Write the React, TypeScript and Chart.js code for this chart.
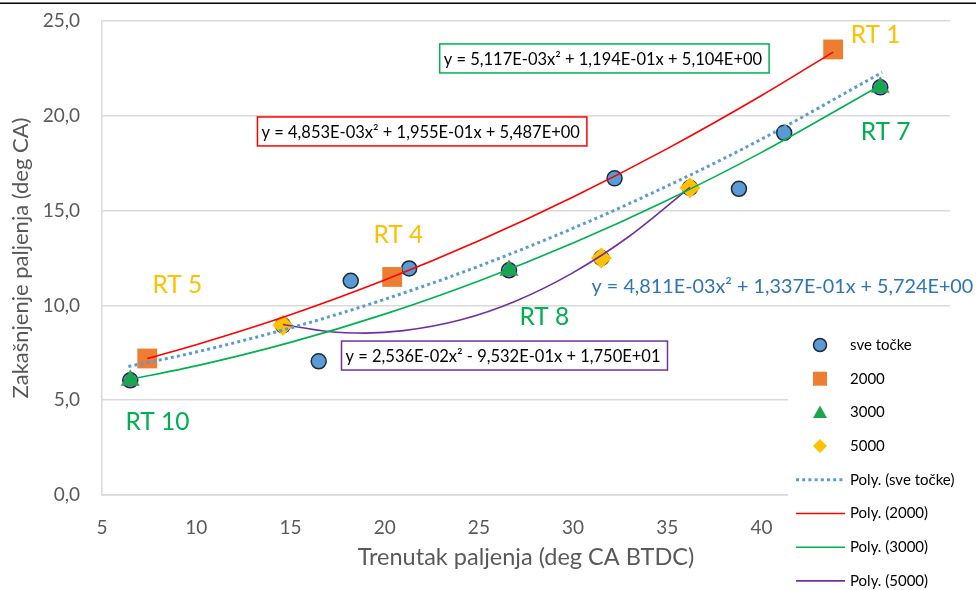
import React, { useEffect, useRef } from "react";
import { Chart, registerables } from "chart.js";
Chart.register(...registerables);

// ---- measured points ----
const allX = [6.5, 7.4, 14.6, 16.5, 18.2, 20.4, 21.3, 26.6, 31.5, 32.2, 36.2, 38.8, 41.2, 43.8, 46.3];
const allY = [6.05, 7.2, 8.95, 7.05, 11.3, 11.5, 11.95, 11.85, 12.5, 16.7, 16.2, 16.15, 19.1, 23.5, 21.5];
const rpm2000X = [7.4, 20.4, 43.8];
const rpm2000Y = [7.2, 11.5, 23.5];
const rpm3000X = [6.5, 26.6, 46.3];
const rpm3000Y = [6.05, 11.85, 21.5];
const rpm5000X = [14.6, 31.5, 36.2];
const rpm5000Y = [8.95, 12.5, 16.2];

// ---- trendline points ----
const polyAllX = [6.4, 10, 15, 20, 25, 30, 35, 40, 46.4];
const polyAllY = [6.78, 7.54, 8.81, 10.32, 12.07, 14.07, 16.3, 18.77, 22.29];
const poly2000X = [7.4, 10, 15, 20, 25, 30, 35, 40, 43.8];
const poly2000Y = [7.2, 7.93, 9.51, 11.34, 13.41, 15.72, 18.27, 21.07, 23.36];
const poly3000X = [6.5, 10, 15, 20, 25, 30, 35, 40, 46.3];
const poly3000Y = [6.1, 6.81, 8.05, 9.54, 11.29, 13.29, 15.55, 18.07, 21.6];
const poly5000X = [14.6, 17, 19, 21, 24, 27, 30, 33, 36.2];
const poly5000Y = [8.99, 8.62, 8.54, 8.67, 9.23, 10.25, 11.73, 13.66, 16.23];

const xTicks = [5, 10, 15, 20, 25, 30, 35, 40, 45, 50];
const yTicks = [0, 5, 10, 15, 20, 25];

const seriesNames = ["sve točke", "2000", "3000", "5000"];
const trendNames = ["Poly. (sve točke)", "Poly. (2000)", "Poly. (3000)", "Poly. (5000)"];

const eqTexts = [
  "y = 5,117E-03x² + 1,194E-01x + 5,104E+00",
  "y = 4,853E-03x² + 1,955E-01x + 5,487E+00",
  "y = 2,536E-02x² - 9,532E-01x + 1,750E+01",
  "y = 4,811E-03x² + 1,337E-01x + 5,724E+00",
];
const rtTexts = ["RT 1", "RT 4", "RT 5", "RT 7", "RT 8", "RT 10"];

const FONT = "Lato, 'Open Sans', sans-serif";
const COLORS = {
  all: "#5B9BD5",
  r2000: "#ED7D31",
  r3000: "#1AA64B",
  r5000: "#FFC000",
  l2000: "#FF0000",
  l3000: "#00B050",
  l5000: "#7030A0",
  grid: "#D9D9D9",
  text: "#595959",
};

const pts = (xs: number[], ys: number[]) => xs.map((x, i) => ({ x, y: ys[i] }));

// annotation placement (data coordinates of the box's left/top or left/middle)
const eqBoxes = [
  { text: eqTexts[0], x: 22.92, y: 23.79, color: "#00B050" },
  { text: eqTexts[1], x: 13.25, y: 19.94, color: "#FF0000" },
  { text: eqTexts[2], x: 17.71, y: 8.12, color: "#7030A0" },
];
const blueEq = { text: eqTexts[3], x: 30.98, y: 10.97, color: "#2E75B6" };
const rtPlaced = [
  { text: rtTexts[0], x: 44.73, y: 24.26, color: "#FFC000" },
  { text: rtTexts[1], x: 19.41, y: 13.71, color: "#FFC000" },
  { text: rtTexts[2], x: 7.68, y: 11.08, color: "#FFC000" },
  { text: rtTexts[3], x: 45.26, y: 19.15, color: "#00B050" },
  { text: rtTexts[4], x: 27.16, y: 9.39, color: "#00B050" },
  { text: rtTexts[5], x: 6.25, y: 3.85, color: "#00B050" },
];

function drawMarker(ctx: CanvasRenderingContext2D, style: string, x: number, y: number, r: number, fill: string, stroke: string | null, lw: number) {
  ctx.save();
  ctx.beginPath();
  if (style === "circle") {
    ctx.arc(x, y, r, 0, Math.PI * 2);
  } else if (style === "rect") {
    ctx.rect(x - r, y - r, 2 * r, 2 * r);
  } else if (style === "triangle") {
    ctx.moveTo(x, y - r);
    ctx.lineTo(x + r, y + r * 0.8);
    ctx.lineTo(x - r, y + r * 0.8);
    ctx.closePath();
  } else if (style === "rectRot") {
    ctx.moveTo(x, y - r);
    ctx.lineTo(x + r, y);
    ctx.lineTo(x, y + r);
    ctx.lineTo(x - r, y);
    ctx.closePath();
  }
  ctx.fillStyle = fill;
  ctx.fill();
  if (stroke && lw > 0) {
    ctx.strokeStyle = stroke;
    ctx.lineWidth = lw;
    ctx.stroke();
  }
  ctx.restore();
}

const overlayPlugin = {
  id: "overlay",
  afterDraw(chart: any) {
    const ctx: CanvasRenderingContext2D = chart.ctx;
    const xs = chart.scales.x;
    const ys = chart.scales.y;
    ctx.save();
    // top border line
    ctx.fillStyle = "#000000";
    ctx.fillRect(0, 2.5, chart.width, 1.5);

    // equation boxes
    ctx.font = `16.5px ${FONT}`;
    ctx.textBaseline = "middle";
    ctx.textAlign = "left";
    eqBoxes.forEach((e) => {
      const left = xs.getPixelForValue(e.x);
      const top = ys.getPixelForValue(e.y);
      const w = ctx.measureText(e.text).width + 11;
      const h = 29;
      ctx.fillStyle = "#ffffff";
      ctx.fillRect(left, top, w, h);
      ctx.strokeStyle = e.color;
      ctx.lineWidth = 1.5;
      ctx.strokeRect(left, top, w, h);
      ctx.fillStyle = "#000000";
      ctx.fillText(e.text, left + 4, top + h / 2 + 1);
    });

    // blue equation
    ctx.font = `19.8px ${FONT}`;
    ctx.fillStyle = blueEq.color;
    ctx.fillText(blueEq.text, xs.getPixelForValue(blueEq.x), ys.getPixelForValue(blueEq.y));

    // RT labels
    ctx.font = `24.5px ${FONT}`;
    rtPlaced.forEach((r) => {
      ctx.fillStyle = r.color;
      ctx.fillText(r.text, xs.getPixelForValue(r.x), ys.getPixelForValue(r.y));
    });

    // legend
    const lx = 788;
    const ly = 322;
    ctx.fillStyle = "#ffffff";
    ctx.fillRect(lx, ly, chart.width - lx, chart.height - ly);
    const ds = chart.data.datasets;
    const order = [4, 5, 6, 7, 0, 1, 2, 3];
    const rowY0 = 345;
    const rowH = 33.7;
    ctx.font = `15px ${FONT}`;
    order.forEach((idx, i) => {
      const d = ds[idx];
      const cy = rowY0 + i * rowH;
      if (d.showLine) {
        ctx.save();
        ctx.strokeStyle = d.borderColor;
        ctx.lineWidth = d.borderWidth;
        ctx.setLineDash(d.borderDash || []);
        ctx.beginPath();
        ctx.moveTo(796, cy);
        ctx.lineTo(845, cy);
        ctx.stroke();
        ctx.restore();
      } else {
        const st = d.pointStyle;
        const r = st === "circle" ? 6.5 : 7;
        drawMarker(ctx, st, 820, cy, r, d.backgroundColor, st === "circle" ? d.borderColor : null, st === "circle" ? 1.5 : 0);
      }
      ctx.fillStyle = "#000000";
      ctx.fillText(d.label, 850, cy);
    });
    ctx.restore();
  },
};

export default function App() {
  const ref = useRef<HTMLCanvasElement>(null);
  useEffect(() => {
    document.body.style.margin = "0";
    const canvas = ref.current!;
    const lineBase = {
      showLine: true,
      pointRadius: 0,
      pointHoverRadius: 0,
      fill: false,
      tension: 0.4,
      cubicInterpolationMode: "monotone" as const,
    };
    const chart = new Chart(canvas, {
      type: "scatter",
      data: {
        datasets: [
          { ...lineBase, label: trendNames[0], data: pts(polyAllX, polyAllY), borderColor: COLORS.all, borderWidth: 3, borderDash: [3, 3.2], order: 0 },
          { ...lineBase, label: trendNames[1], data: pts(poly2000X, poly2000Y), borderColor: COLORS.l2000, borderWidth: 1.6, order: 1 },
          { ...lineBase, label: trendNames[2], data: pts(poly3000X, poly3000Y), borderColor: COLORS.l3000, borderWidth: 1.6, order: 2 },
          { ...lineBase, label: trendNames[3], data: pts(poly5000X, poly5000Y), borderColor: COLORS.l5000, borderWidth: 1.6, order: 3 },
          { label: seriesNames[0], data: pts(allX, allY), pointStyle: "circle", pointRadius: 7.5, backgroundColor: COLORS.all, borderColor: "#1C2B3C", borderWidth: 1.5, order: 8 },
          { label: seriesNames[1], data: pts(rpm2000X, rpm2000Y), pointStyle: "rect", pointRadius: 14, backgroundColor: COLORS.r2000, borderColor: COLORS.r2000, borderWidth: 0, order: 7 },
          { label: seriesNames[2], data: pts(rpm3000X, rpm3000Y), pointStyle: "triangle", pointRadius: 10.5, backgroundColor: COLORS.r3000, borderColor: "rgba(90,90,90,0.5)", borderWidth: 0.8, order: 6 },
          { label: seriesNames[3], data: pts(rpm5000X, rpm5000Y), pointStyle: "rectRot", pointRadius: 10.5, backgroundColor: COLORS.r5000, borderColor: COLORS.r5000, borderWidth: 0, order: 5 },
        ] as any,
      },
      options: {
        animation: false,
        responsive: false,
        events: [],
        layout: { padding: { top: 21, right: 26, left: 0, bottom: 0 } },
        plugins: { legend: { display: false }, tooltip: { enabled: false } },
        scales: {
          x: {
            type: "linear",
            min: 5,
            max: 50,
            afterBuildTicks: (s: any) => {
              s.ticks = xTicks.map((v) => ({ value: v }));
            },
            afterFit: (s: any) => {
              s.height = 95;
              s.paddingLeft = 0;
              s.paddingRight = 0;
            },
            grid: { display: false, drawTicks: false },
            border: { display: true, color: COLORS.grid, width: 1.5 },
            ticks: { color: COLORS.text, font: { family: FONT, size: 19 }, padding: 21, maxRotation: 0, autoSkip: false },
            title: { display: true, text: "Trenutak paljenja (deg CA BTDC)", color: COLORS.text, font: { family: FONT, size: 23.5 }, padding: { top: 0, bottom: 18 } },
          },
          y: {
            type: "linear",
            min: 0,
            max: 25,
            afterBuildTicks: (s: any) => {
              s.ticks = yTicks.map((v) => ({ value: v }));
            },
            afterFit: (s: any) => {
              s.width = 102;
              s.paddingTop = 0;
              s.paddingBottom = 0;
            },
            grid: { color: COLORS.grid, lineWidth: 1.5, drawTicks: false },
            border: { display: true, color: COLORS.grid, width: 1.5 },
            ticks: {
              color: COLORS.text,
              font: { family: FONT, size: 19 },
              padding: 22,
              callback: (v: any) => Number(v).toFixed(1).replace(".", ","),
            },
            title: { display: true, text: "Zakašnjenje paljenja (deg CA)", color: COLORS.text, font: { family: FONT, size: 22 }, padding: { top: 8, bottom: 0 } },
          },
        },
      },
      plugins: [overlayPlugin],
    });
    return () => chart.destroy();
  }, []);
  return (
    <div style={{ width: 976, height: 590, position: "relative", background: "#fff" }}>
      <canvas ref={ref} width={976} height={590} style={{ display: "block" }} />
    </div>
  );
}
